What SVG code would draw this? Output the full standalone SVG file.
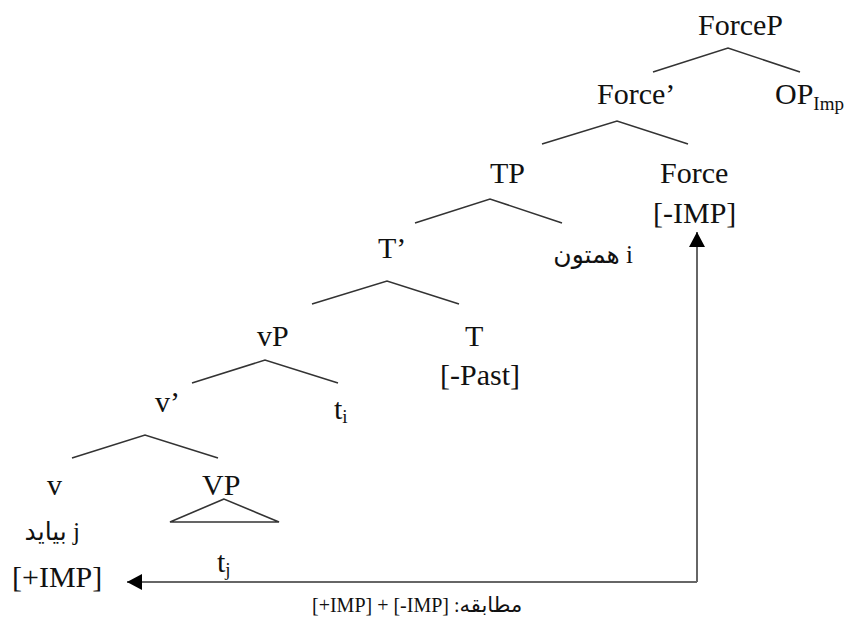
<svg xmlns="http://www.w3.org/2000/svg" width="848" height="626" viewBox="0 0 848 626">
<style>
.lbl{font-family:"Liberation Serif","DejaVu Sans",serif;font-size:30px;fill:#111}
.ar{font-family:"Liberation Serif","DejaVu Sans",serif;font-size:25px;fill:#111}
.cap{font-family:"Liberation Serif","DejaVu Sans",serif;font-size:20px;fill:#111}
.sub{font-size:19px}
.br{stroke:#333;stroke-width:1.6;fill:none}
.conn{stroke:#666;stroke-width:2;fill:none}
</style>
<defs>
<marker id="ah" markerWidth="16" markerHeight="16" refX="15" refY="8" orient="auto" markerUnits="userSpaceOnUse">
<path d="M0,0 L15,8 L0,16 Z" fill="#000"/>
</marker>
</defs>
<rect width="848" height="626" fill="#fff"/>
<g id="ForceP"><text class="lbl" x="698" y="35">ForceP</text><path class="br" d="M653,72 L728,48 L800,72"/></g>
<g id="ForceBar"><text class="lbl" x="597" y="104">Force’</text><path class="br" d="M542,144 L617,121 L688,144"/></g>
<g id="OPImp"><text class="lbl" x="775" y="104">OP<tspan class="sub" dy="6">Imp</tspan></text></g>
<g id="TP"><text class="lbl" x="490" y="183">TP</text><path class="br" d="M415,223 L490,199 L562,223"/></g>
<g id="Force"><text class="lbl" x="660" y="183">Force</text><text class="lbl" x="653" y="223">[-IMP]</text></g>
<g id="TBar"><text class="lbl" x="378" y="258">T’</text><path class="br" d="M312,304 L387,281 L459,304"/></g>
<g id="hamtun"><text class="ar" x="633" y="263" text-anchor="end">همتون i</text></g>
<g id="vP"><text class="lbl" x="257" y="346">vP</text><path class="br" d="M192,383 L265,360 L338,383"/></g>
<g id="T"><text class="lbl" x="465" y="346">T</text><text class="lbl" x="440" y="385">[-Past]</text></g>
<g id="vBar"><text class="lbl" x="155" y="412">v’</text><path class="br" d="M72,458 L145,435 L218,458"/></g>
<g id="ti"><text class="lbl" x="334" y="419">t<tspan class="sub" dy="4">i</tspan></text></g>
<g id="v"><text class="lbl" x="47" y="495">v</text><text class="ar" x="80" y="540" text-anchor="end">بیاید j</text><text class="lbl" x="12" y="587">[+IMP]</text></g>
<g id="VP"><text class="lbl" x="202" y="495">VP</text><path class="br" d="M224,499 L170,522 L279,522 Z"/><text class="lbl" x="217" y="572">t<tspan class="sub" dy="4">j</tspan></text></g>
<g id="connectors">
<path class="conn" d="M697,582 L697,232" marker-end="url(#ah)"/>
<path class="conn" d="M697,582 L127,582" marker-end="url(#ah)"/>
</g>
<g id="caption"><text class="cap" x="312" y="612">[+IMP] + [-IMP] :<tspan font-size="21">مطابقه</tspan></text></g>
</svg>
